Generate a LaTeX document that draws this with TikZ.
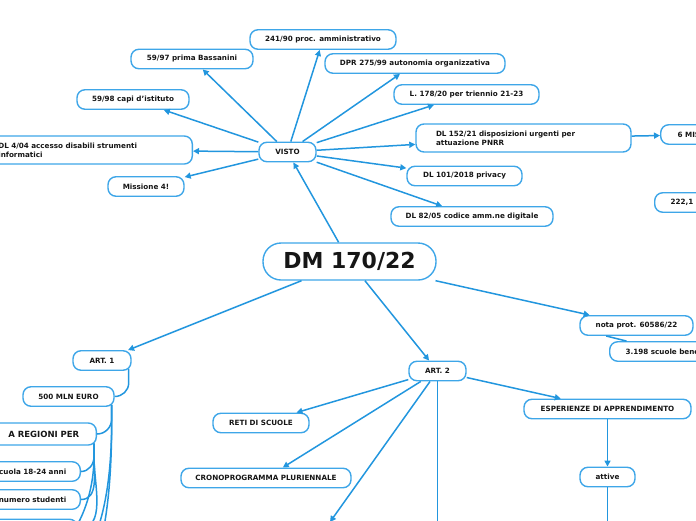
\documentclass[tikz,border=0pt]{standalone}
\usepackage{fontspec}
\setmainfont{DejaVu Sans}
\usepackage{tikz}
\usetikzlibrary{arrows.meta}

\definecolor{mapblue}{RGB}{62,166,232}
\definecolor{linkblue}{RGB}{34,150,222}
\definecolor{ink}{RGB}{22,22,22}

\begin{document}
\begin{tikzpicture}[
    x=1pt, y=1pt,
    idea/.style={draw=mapblue, fill=white, line width=1.4pt, rounded corners=8pt, align=center, minimum height=19.5pt, inner sep=2pt, text=ink, font=\fontsize{7.2}{9}\selectfont\bfseries},
    root/.style={idea, rounded corners=18pt, minimum height=37pt, font=\fontsize{22}{26}\selectfont\bfseries},
    arrow/.style={-{Triangle[length=6pt,width=6pt]}, draw=linkblue, line width=1.5pt},
    branch/.style={draw=linkblue, line width=1.5pt}
  ]
    \useasboundingbox (0,0) rectangle (696,-520);
    \clip (0,0) rectangle (696,-520);

    % centre
    \node[root, minimum width=173pt] (dm) at (349.5,-261.5) {DM 170/22};

    % VISTO and its sources
    \node[idea, minimum width=57pt] (visto) at (287.5,-152) {VISTO};
    \node[idea, minimum width=146pt] (ammin) at (323,-39.5) {241/90 proc. amministrativo};
    \node[idea, minimum width=122pt] (bassanini) at (192,-59) {59/97 prima Bassanini};
    \node[idea, minimum width=180pt] (dpr) at (415,-63.5) {DPR 275/99 autonomia organizzativa};
    \node[idea, minimum width=112pt] (capi) at (133,-99.5) {59/98 capi d'istituto};
    \node[idea, minimum width=145pt] (legge178) at (466.5,-94.5) {L. 178/20 per triennio 21-23};
    \node[idea, anchor=east, minimum height=28pt, text width=157pt, inner xsep=37pt, align=left] (disabili) at (193,-150) {DL 4/04 accesso disabili strumenti\\informatici};
    \node[idea, minimum height=28pt, text width=175pt, inner xsep=20pt, align=left] (dl152) at (523.5,-138) {DL 152/21 disposizioni urgenti per\\attuazione PNRR};
    \node[idea, anchor=west, text width=80pt, inner xsep=17pt, align=left] (sei) at (660,-134.5) {6 MIS};
    \node[idea, minimum width=76pt] (missione) at (146,-186.5) {Missione 4!};
    \node[idea, minimum width=115pt] (dl101) at (464.5,-176) {DL 101/2018 privacy};
    \node[idea, anchor=west, text width=80pt, inner xsep=16pt, align=left] (duecento) at (654,-202.5) {222,1};
    \node[idea, minimum width=162pt] (dl82) at (472,-216.5) {DL 82/05 codice amm.ne digitale};

    % nota
    \node[idea, minimum width=113pt] (nota) at (636.5,-325.5) {nota prot. 60586/22};
    \node[idea, anchor=west, text width=100pt, inner xsep=16pt, align=left] (scuole) at (609,-351.5) {3.198 scuole bene};

    % ART. 1
    \node[idea, minimum width=58pt] (art1) at (102,-360.5) {ART. 1};
    \node[idea, minimum width=91pt] (mln500) at (68.5,-396.5) {500 MLN EURO};
    \node[idea, anchor=east, minimum height=22pt, text width=143pt, inner xsep=17pt, align=right, font=\fontsize{8.5}{10}\selectfont\bfseries] (regioni) at (97,-434) {A REGIONI PER};
    \node[idea, anchor=east, text width=110pt, inner xsep=14pt, align=right] (cuola) at (81,-471.5) {cuola 18-24 anni};
    \node[idea, anchor=east, text width=110pt, inner xsep=14pt, align=right] (numero) at (81,-499.5) {numero studenti};
    \node[idea, anchor=north east, minimum width=120pt] (altro) at (78,-518.5) {};
    \coordinate (giu1) at (25,-590);
    \coordinate (giu2) at (5,-640);
    \coordinate (giu3) at (0,-575);

    % ART. 2
    \node[idea, minimum width=57pt] (art2) at (437.5,-371) {ART. 2};
    \node[idea, minimum width=96pt] (reti) at (261,-423) {RETI DI SCUOLE};
    \node[idea, minimum width=170pt] (crono) at (266,-478) {CRONOPROGRAMMA PLURIENNALE};
    \node[idea, minimum width=167pt] (esperienze) at (607.5,-409) {ESPERIENZE DI APPRENDIMENTO};
    \node[idea, minimum width=55pt] (attive) at (607.5,-477) {attive};
    \coordinate (nodo3) at (330,-522);
    \coordinate (nodo4) at (437.5,-560);
    \coordinate (nodo5) at (607.5,-560);

    \draw[arrow] (dm) -- (visto);
    \draw[arrow] (dm) -- (art1);
    \draw[arrow] (dm) -- (art2);
    \draw[arrow] (dm) -- (nota);
    \foreach \n in {ammin,bassanini,dpr,capi,legge178,disabili,dl152,missione,dl101,dl82}
      \draw[arrow] (visto) -- (\n);
    \draw[arrow] (dl152) -- (sei);
    \draw[branch] (nota.199) -- (scuole.168);

    \draw[branch] ([xshift=-3pt,yshift=2pt]art1.south east) -- ++(0,-14) to[out=-90,in=0] (mln500.east);
    \foreach \n in {regioni.east,giu1,giu2}
      \draw[branch] ([xshift=-3pt,yshift=2pt]mln500.south east) -- ++(0,-14) to[out=-90,in=0] (\n);
    \foreach \n in {cuola.east,numero.east,altro.east,giu3}
      \draw[branch] ([xshift=-3pt,yshift=2pt]regioni.south east) -- ++(0,-13) to[out=-90,in=0] (\n);

    \foreach \n in {reti,crono,esperienze,nodo3,nodo4}
      \draw[arrow] (art2) -- (\n);
    \draw[arrow] (esperienze) -- (attive);
    \draw[arrow] (attive) -- (nodo5);
  \end{tikzpicture}
\end{document}
